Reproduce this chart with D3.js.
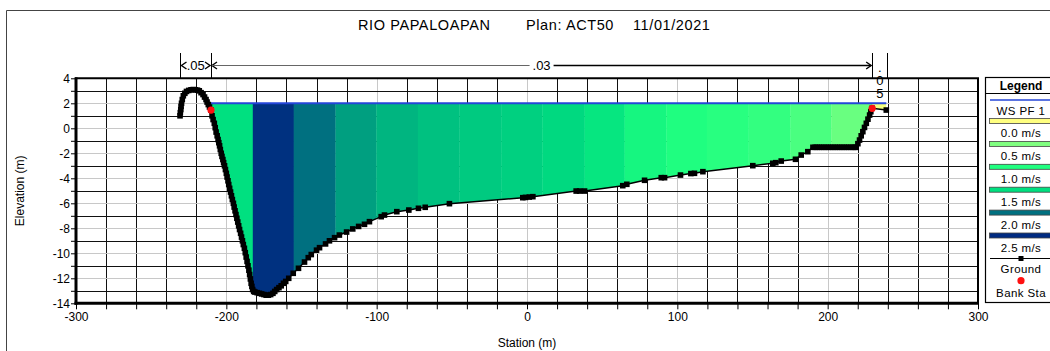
<!DOCTYPE html>
<html>
<head>
<meta charset="utf-8">
<script src="https://cdn.jsdelivr.net/npm/d3@7"></script>
<style>
    body { margin: 0; background: #fff; }
    svg { display: block; font-family: "Liberation Sans", Arial, sans-serif; }
</style>
</head>
<body>
<div id="chart-area"></div>
<script>

// ground survey points [station (m), elevation (m)]
const groundPoints = [
    [-230.8, 1.0], [-230.6, 1.25], [-230.3, 1.5], [-230.1, 1.75], [-229.8, 2.0], [-229.3, 2.3], [-228.6, 2.6],
    [-227.6, 2.8], [-226.5, 2.95], [-225, 3.03], [-223.5, 3.08], [-222, 3.1], [-220.5, 3.08], [-219.2, 3.05],
    [-218, 3.0], [-216.8, 2.85], [-215.5, 2.7], [-214.5, 2.5], [-213.5, 2.3], [-212.8, 2.1], [-212, 1.9],
    [-211.2, 1.7], [-210.2, 1.46],
    [-209.5, 1.0], [-208.8, 0.7], [-208, 0.4], [-207.4, 0.05], [-206.8, -0.3], [-206.1, -0.6], [-205.5, -0.9],
    [-205, -1.15], [-204.5, -1.4], [-204, -1.7], [-203.4, -2.0], [-202.9, -2.25], [-202.3, -2.5], [-201.8, -2.75],
    [-201.2, -3.0], [-200.6, -3.3], [-200, -3.6], [-199.5, -3.9], [-198.9, -4.2], [-198.4, -4.5], [-197.8, -4.8],
    [-197.2, -5.1], [-196.6, -5.4], [-196, -5.7], [-195.3, -6.0], [-194.8, -6.3], [-194.2, -6.6], [-193.6, -6.9],
    [-193, -7.2], [-192.4, -7.5], [-191.8, -7.8], [-191.2, -8.1], [-190.5, -8.4], [-189.9, -8.7], [-189.3, -9.0],
    [-188.7, -9.3], [-188, -9.6], [-187.4, -9.95], [-186.8, -10.3], [-186.2, -10.65], [-185.6, -11.0],
    [-185, -11.35], [-184.5, -11.7], [-184, -12.05], [-183.5, -12.4], [-183, -12.65], [-182.5, -12.9],
    [-181.8, -13.05], [-181, -13.1], [-179.5, -13.15], [-178, -13.2], [-176.5, -13.25], [-175, -13.3],
    [-173.5, -13.35], [-172, -13.35], [-170.5, -13.3], [-169, -13.2], [-167.8, -13.05], [-166.5, -12.9],
    [-165, -12.75], [-163.5, -12.6], [-162, -12.4], [-160.5, -12.25], [-158.5, -12.0], [-155.5, -11.6],
    [-152, -11.2], [-148, -10.7], [-145.5, -10.35], [-143.5, -10.1], [-140, -9.75], [-138, -9.55], [-134, -9.25],
    [-131.4, -9.0], [-128, -8.75], [-124.8, -8.54], [-120, -8.3], [-115.9, -8.05], [-112, -7.85], [-108.1, -7.68],
    [-104.8, -7.47], [-97, -7.07], [-94.8, -6.94], [-86.6, -6.67], [-78.6, -6.54], [-72.2, -6.4], [-67.7, -6.32],
    [-51.6, -6.03], [-2.8, -5.55], [-1, -5.53], [1.5, -5.5], [3.9, -5.47], [32.7, -5.02], [35, -5.02], [38.3, -5.02],
    [63.7, -4.59], [66.4, -4.48], [78.2, -4.16], [89.3, -3.95], [91.5, -3.95], [102.1, -3.74], [109, -3.62],
    [111.4, -3.6], [117, -3.47], [150.2, -2.99], [163.5, -2.8], [165.5, -2.75], [169.1, -2.62], [178.6, -2.48],
    [182.4, -2.14], [186.8, -1.87], [190.2, -1.52], [191.7, -1.52], [193, -1.52], [194.5, -1.52], [196, -1.52],
    [197.5, -1.52], [199, -1.52], [200.5, -1.52], [202, -1.52], [203.5, -1.52], [205, -1.52], [206.5, -1.52],
    [208, -1.52], [209.5, -1.52], [211, -1.52], [212.5, -1.52], [214, -1.52], [215.5, -1.52], [217, -1.52],
    [218.2, -1.52], [219, -1.52], [220.1, -1.23], [221.2, -0.94], [222.3, -0.6], [223.4, -0.27], [224.5, 0.07],
    [225.7, 0.4], [226.8, 0.73], [227.9, 1.06], [228.7, 1.33], [229.6, 1.6], [239, 1.46]
];

const bankStations = [-210.2, 229.6];
const bankElevations = [1.46, 1.6];

// water surface PF 1
const wsElevation = 2.0;
const wsStations = [-210.2, 239];

// velocity distribution subsections (edges) and their velocity (m/s)
const sliceEdges = [-210.2, -182.4, -155.2, -127.4, -100.3, -72.6, -44.9, -17.2, 10.1, 38.3, 64.9, 92.6,
    119.6, 147.4, 175.1, 202.4, 229.6, 239];
const sliceVelocity = [1.5, 2.45, 2.0, 1.79, 1.69, 1.64, 1.6, 1.57, 1.53, 1.4, 1.15, 1.02, 0.96, 0.9, 0.78, 0.62, 0.05];

// legend velocity classes
const velocityStops = [0.0, 0.5, 1.0, 1.5, 2.0, 2.5];
const velocityColors = ["#ffff80", "#80ff80", "#20ff80", "#00e080", "#007080", "#002a80"];

// manning's n
const nStations = [-230.5, -210.2, 229.6, 239.2];
const nValues = [".05", ".03", ".05"];

const xTicks = [-300, -200, -100, 0, 100, 200, 300];
const yTicks = [4, 2, 0, -2, -4, -6, -8, -10, -12, -14];

class CrossSection {

    constructor(parentElement) {
        this.parentElement = parentElement;
        this.initVis();
    }

    initVis() {
        let vis = this;

        vis.width = 1050;
        vis.height = 351;

        vis.svg = d3.select("#" + vis.parentElement).append("svg")
            .attr("width", vis.width)
            .attr("height", vis.height);

        vis.x = d3.scaleLinear().domain([-300, 300]).range([76, 978]);
        vis.y = d3.scaleLinear().domain([-14, 4]).range([303.3, 78.3]);
        vis.color = d3.scaleLinear().domain(velocityStops).range(velocityColors);

        vis.ground = groundPoints.map(p => ({s: p[0], z: p[1]}));

        // outer window frame
        vis.svg.append("path")
            .attr("d", "M6.5,351 L6.5,10.5 L1050,10.5")
            .attr("fill", "none")
            .attr("stroke", "#444");

        // title
        vis.svg.append("g")
            .attr("font-size", "14.5px")
            .selectAll("text")
            .data([["RIO PAPALOAPAN", 358], ["Plan: ACT50", 526], ["11/01/2021", 633]])
            .join("text")
            .attr("x", d => d[1])
            .attr("y", 29.5)
            .attr("letter-spacing", "0.6px")
            .text(d => d[0]);

        vis.drawGrid();
        vis.drawWater();
        vis.drawGround();
        vis.drawAxes();
        vis.drawManning();
        vis.drawLegend();
    }

    drawGrid() {
        let vis = this;
        let g = vis.svg.append("g").attr("class", "grid");

        // vertical lines every 20 m, light at labelled stations
        g.selectAll(".vline")
            .data(d3.range(-280, 300, 20))
            .join("line")
            .attr("x1", d => Math.round(vis.x(d)) + 0.5)
            .attr("x2", d => Math.round(vis.x(d)) + 0.5)
            .attr("y1", vis.y(4))
            .attr("y2", vis.y(-14))
            .attr("stroke", d => d % 100 === 0 ? "#c8c8c8" : "#111");

        // horizontal lines every 1 m, light at labelled elevations
        g.selectAll(".hline")
            .data(d3.range(-13, 4, 1))
            .join("line")
            .attr("x1", vis.x(-300))
            .attr("x2", vis.x(300))
            .attr("y1", d => Math.round(vis.y(d)) + 0.5)
            .attr("y2", d => Math.round(vis.y(d)) + 0.5)
            .attr("stroke", d => d % 2 === 0 ? "#c8c8c8" : "#111");
    }

    drawWater() {
        let vis = this;

        // polygon of the wetted area between the bank and the end of the water surface
        let wet = vis.ground.filter(d => d.s >= wsStations[0] && d.s <= wsStations[1]);
        let poly = [[wsStations[0], wsElevation]].concat(wet.map(d => [d.s, d.z])).concat([[wsStations[1], wsElevation]]);

        vis.svg.append("clipPath")
            .attr("id", "wet-clip")
            .append("path")
            .attr("d", "M" + poly.map(p => vis.x(p[0]) + "," + vis.y(p[1])).join("L") + "Z");

        vis.svg.append("g")
            .attr("clip-path", "url(#wet-clip)")
            .selectAll("rect")
            .data(sliceVelocity)
            .join("rect")
            .attr("x", (d, i) => vis.x(sliceEdges[i]))
            .attr("width", (d, i) => vis.x(sliceEdges[i + 1]) - vis.x(sliceEdges[i]) + 0.3)
            .attr("y", vis.y(wsElevation))
            .attr("height", vis.y(-14) - vis.y(wsElevation))
            .attr("fill", d => vis.color(d));

        // water surface line
        vis.svg.append("line")
            .attr("x1", vis.x(wsStations[0]))
            .attr("x2", vis.x(wsStations[1]))
            .attr("y1", vis.y(wsElevation))
            .attr("y2", vis.y(wsElevation))
            .attr("stroke", "#2446d8")
            .attr("stroke-width", 2);
    }

    drawGround() {
        let vis = this;

        let line = d3.line()
            .x(d => vis.x(d.s))
            .y(d => vis.y(d.z));

        vis.svg.append("path")
            .datum(vis.ground)
            .attr("d", line)
            .attr("fill", "none")
            .attr("stroke", "#000")
            .attr("stroke-width", 1.5);

        vis.svg.append("g")
            .selectAll("rect")
            .data(vis.ground)
            .join("rect")
            .attr("x", d => vis.x(d.s) - 2.8)
            .attr("y", d => vis.y(d.z) - 2.8)
            .attr("width", 5.6)
            .attr("height", 5.6)
            .attr("fill", "#000");

        // bank stations
        vis.svg.append("g")
            .selectAll("circle")
            .data(bankStations)
            .join("circle")
            .attr("cx", d => vis.x(d))
            .attr("cy", (d, i) => vis.y(bankElevations[i]))
            .attr("r", 3.6)
            .attr("fill", "#ff1010");
    }

    drawAxes() {
        let vis = this;
        let left = vis.x(-300), right = vis.x(300), top = vis.y(4), bottom = vis.y(-14);

        // x ticks every 20 m, labels every 100 m
        let xAxis = vis.svg.append("g")
            .attr("transform", `translate(0,${bottom})`)
            .call(d3.axisBottom(vis.x)
                .tickValues(d3.range(-300, 301, 20))
                .tickSize(6)
                .tickFormat(d => xTicks.includes(d) ? d : ""));
        xAxis.select(".domain").remove();
        xAxis.selectAll("line").attr("stroke", "#000");
        xAxis.selectAll("text")
            .attr("font-size", "12px")
            .attr("font-family", "Liberation Sans, Arial, sans-serif")
            .attr("fill", "#000")
            .attr("y", 9);

        // y ticks every 1 m, labels every 2 m
        let yAxis = vis.svg.append("g")
            .attr("transform", `translate(${left},0)`)
            .call(d3.axisLeft(vis.y)
                .tickValues(d3.range(-14, 5, 1))
                .tickSize(5)
                .tickFormat(d => yTicks.includes(d) ? d : ""));
        yAxis.select(".domain").remove();
        yAxis.selectAll("line").attr("stroke", "#000");
        yAxis.selectAll("text")
            .attr("font-size", "12px")
            .attr("font-family", "Liberation Sans, Arial, sans-serif")
            .attr("fill", "#000")
            .attr("x", -6);

        // plot frame
        let frame = vis.svg.append("g").attr("stroke", "#000").attr("fill", "none");
        frame.append("line").attr("x1", left - 1).attr("x2", right + 1).attr("y1", top).attr("y2", top).attr("stroke-width", 2);
        frame.append("line").attr("x1", right).attr("x2", right).attr("y1", top).attr("y2", bottom).attr("stroke-width", 2);
        frame.append("line").attr("x1", left).attr("x2", left).attr("y1", top - 1).attr("y2", bottom + 1.5).attr("stroke-width", 3);
        frame.append("line").attr("x1", left - 1.5).attr("x2", right + 1).attr("y1", bottom).attr("y2", bottom).attr("stroke-width", 3);

        // axis titles
        vis.svg.append("text")
            .attr("x", (left + right) / 2)
            .attr("y", 347)
            .attr("text-anchor", "middle")
            .attr("font-size", "12px")
            .text("Station (m)");

        vis.svg.append("text")
            .attr("transform", `translate(24,${(top + bottom) / 2}) rotate(-90)`)
            .attr("text-anchor", "middle")
            .attr("font-size", "12px")
            .text("Elevation (m)");
    }

    drawManning() {
        let vis = this;
        let g = vis.svg.append("g").attr("stroke", "#000").attr("fill", "none");
        let yTop = 53, yBot = vis.y(4), yArr = 65.5;
        let xs = nStations.map(d => vis.x(d));

        g.selectAll("line.nline")
            .data(xs)
            .join("line")
            .attr("x1", d => Math.round(d) + 0.5)
            .attr("x2", d => Math.round(d) + 0.5)
            .attr("y1", yTop)
            .attr("y2", yBot);

        let arrow = (x, dir) => `M${x + dir * 5},${yArr - 3.5}L${x},${yArr}L${x + dir * 5},${yArr + 3.5}`;

        // .05 left overbank
        g.append("path").attr("d", arrow(xs[0] + 1, 1)).attr("stroke-width", 1.4);
        g.append("path").attr("d", arrow(xs[1] - 1, -1)).attr("stroke-width", 1.4);
        vis.svg.append("text")
            .attr("x", (xs[0] + xs[1]) / 2)
            .attr("y", yArr + 4.5)
            .attr("text-anchor", "middle")
            .attr("font-size", "13px")
            .text(nValues[0]);

        // .03 main channel
        let mid = (xs[1] + xs[2]) / 2;
        g.append("path").attr("d", arrow(xs[1] + 1, 1)).attr("stroke-width", 1.4);
        g.append("line").attr("x1", xs[1] + 1).attr("x2", mid - 12).attr("y1", yArr).attr("y2", yArr)
            .attr("stroke", "#666");
        g.append("line").attr("x1", mid + 12).attr("x2", xs[2] - 1).attr("y1", yArr).attr("y2", yArr)
            .attr("stroke-width", 1.6);
        g.append("path").attr("d", arrow(xs[2] - 1, -1)).attr("stroke-width", 1.4);
        vis.svg.append("text")
            .attr("x", mid)
            .attr("y", yArr + 4.5)
            .attr("text-anchor", "middle")
            .attr("font-size", "13px")
            .text(nValues[1]);

        // .05 right overbank, stacked because the span is narrow
        vis.svg.append("text")
            .attr("text-anchor", "middle")
            .attr("font-size", "13px")
            .selectAll("tspan")
            .data(nValues[2].split(""))
            .join("tspan")
            .attr("x", (xs[2] + xs[3]) / 2 + 0.5)
            .attr("y", (d, i) => 71.5 + i * 13)
            .text(d => d);
    }

    drawLegend() {
        let vis = this;
        let lx = 985, cx = 1021;
        let g = vis.svg.append("g").attr("font-size", "11.5px");

        g.append("rect")
            .attr("x", lx + 0.5).attr("y", 77.5)
            .attr("width", 90).attr("height", 225)
            .attr("fill", "#fff").attr("stroke", "#000").attr("stroke-width", 1.2);

        g.append("text")
            .attr("x", cx).attr("y", 89.5)
            .attr("text-anchor", "middle")
            .attr("font-weight", "bold")
            .attr("font-size", "12px")
            .text("Legend");

        g.append("line")
            .attr("x1", lx).attr("x2", 1050).attr("y1", 93.5).attr("y2", 93.5)
            .attr("stroke", "#000");

        g.append("line")
            .attr("x1", 990).attr("x2", 1050).attr("y1", 100).attr("y2", 100)
            .attr("stroke", "#2446d8").attr("stroke-width", 1.5);
        g.append("text")
            .attr("x", cx).attr("y", 114.5)
            .attr("text-anchor", "middle")
            .attr("letter-spacing", "0.4px")
            .text("WS PF 1");

        let items = g.selectAll(".vel")
            .data(velocityStops)
            .join("g")
            .attr("transform", (d, i) => `translate(0,${121 + i * 22.9})`);

        items.append("rect")
            .attr("x", 989.5).attr("y", -2.5)
            .attr("width", 70).attr("height", 5)
            .attr("fill", d => vis.color(d))
            .attr("stroke", "#444").attr("stroke-width", 0.8);

        items.append("text")
            .attr("x", cx).attr("y", 16)
            .attr("text-anchor", "middle")
            .attr("letter-spacing", "0.4px")
            .text(d => d.toFixed(1) + " m/s");

        // ground sample
        g.append("line")
            .attr("x1", 990).attr("x2", 1050).attr("y1", 258.5).attr("y2", 258.5)
            .attr("stroke", "#000");
        g.append("rect")
            .attr("x", cx - 2.5).attr("y", 256).attr("width", 5).attr("height", 5)
            .attr("fill", "#000");
        g.append("text")
            .attr("x", cx).attr("y", 272.5)
            .attr("text-anchor", "middle")
            .attr("letter-spacing", "0.4px")
            .text("Ground");

        // bank station sample
        g.append("circle")
            .attr("cx", cx).attr("cy", 280.7).attr("r", 3.6)
            .attr("fill", "#ff1010");
        g.append("text")
            .attr("x", cx).attr("y", 296.5)
            .attr("text-anchor", "middle")
            .attr("letter-spacing", "0.4px")
            .text("Bank Sta");
    }
}

new CrossSection("chart-area");

</script>
</body>
</html>
